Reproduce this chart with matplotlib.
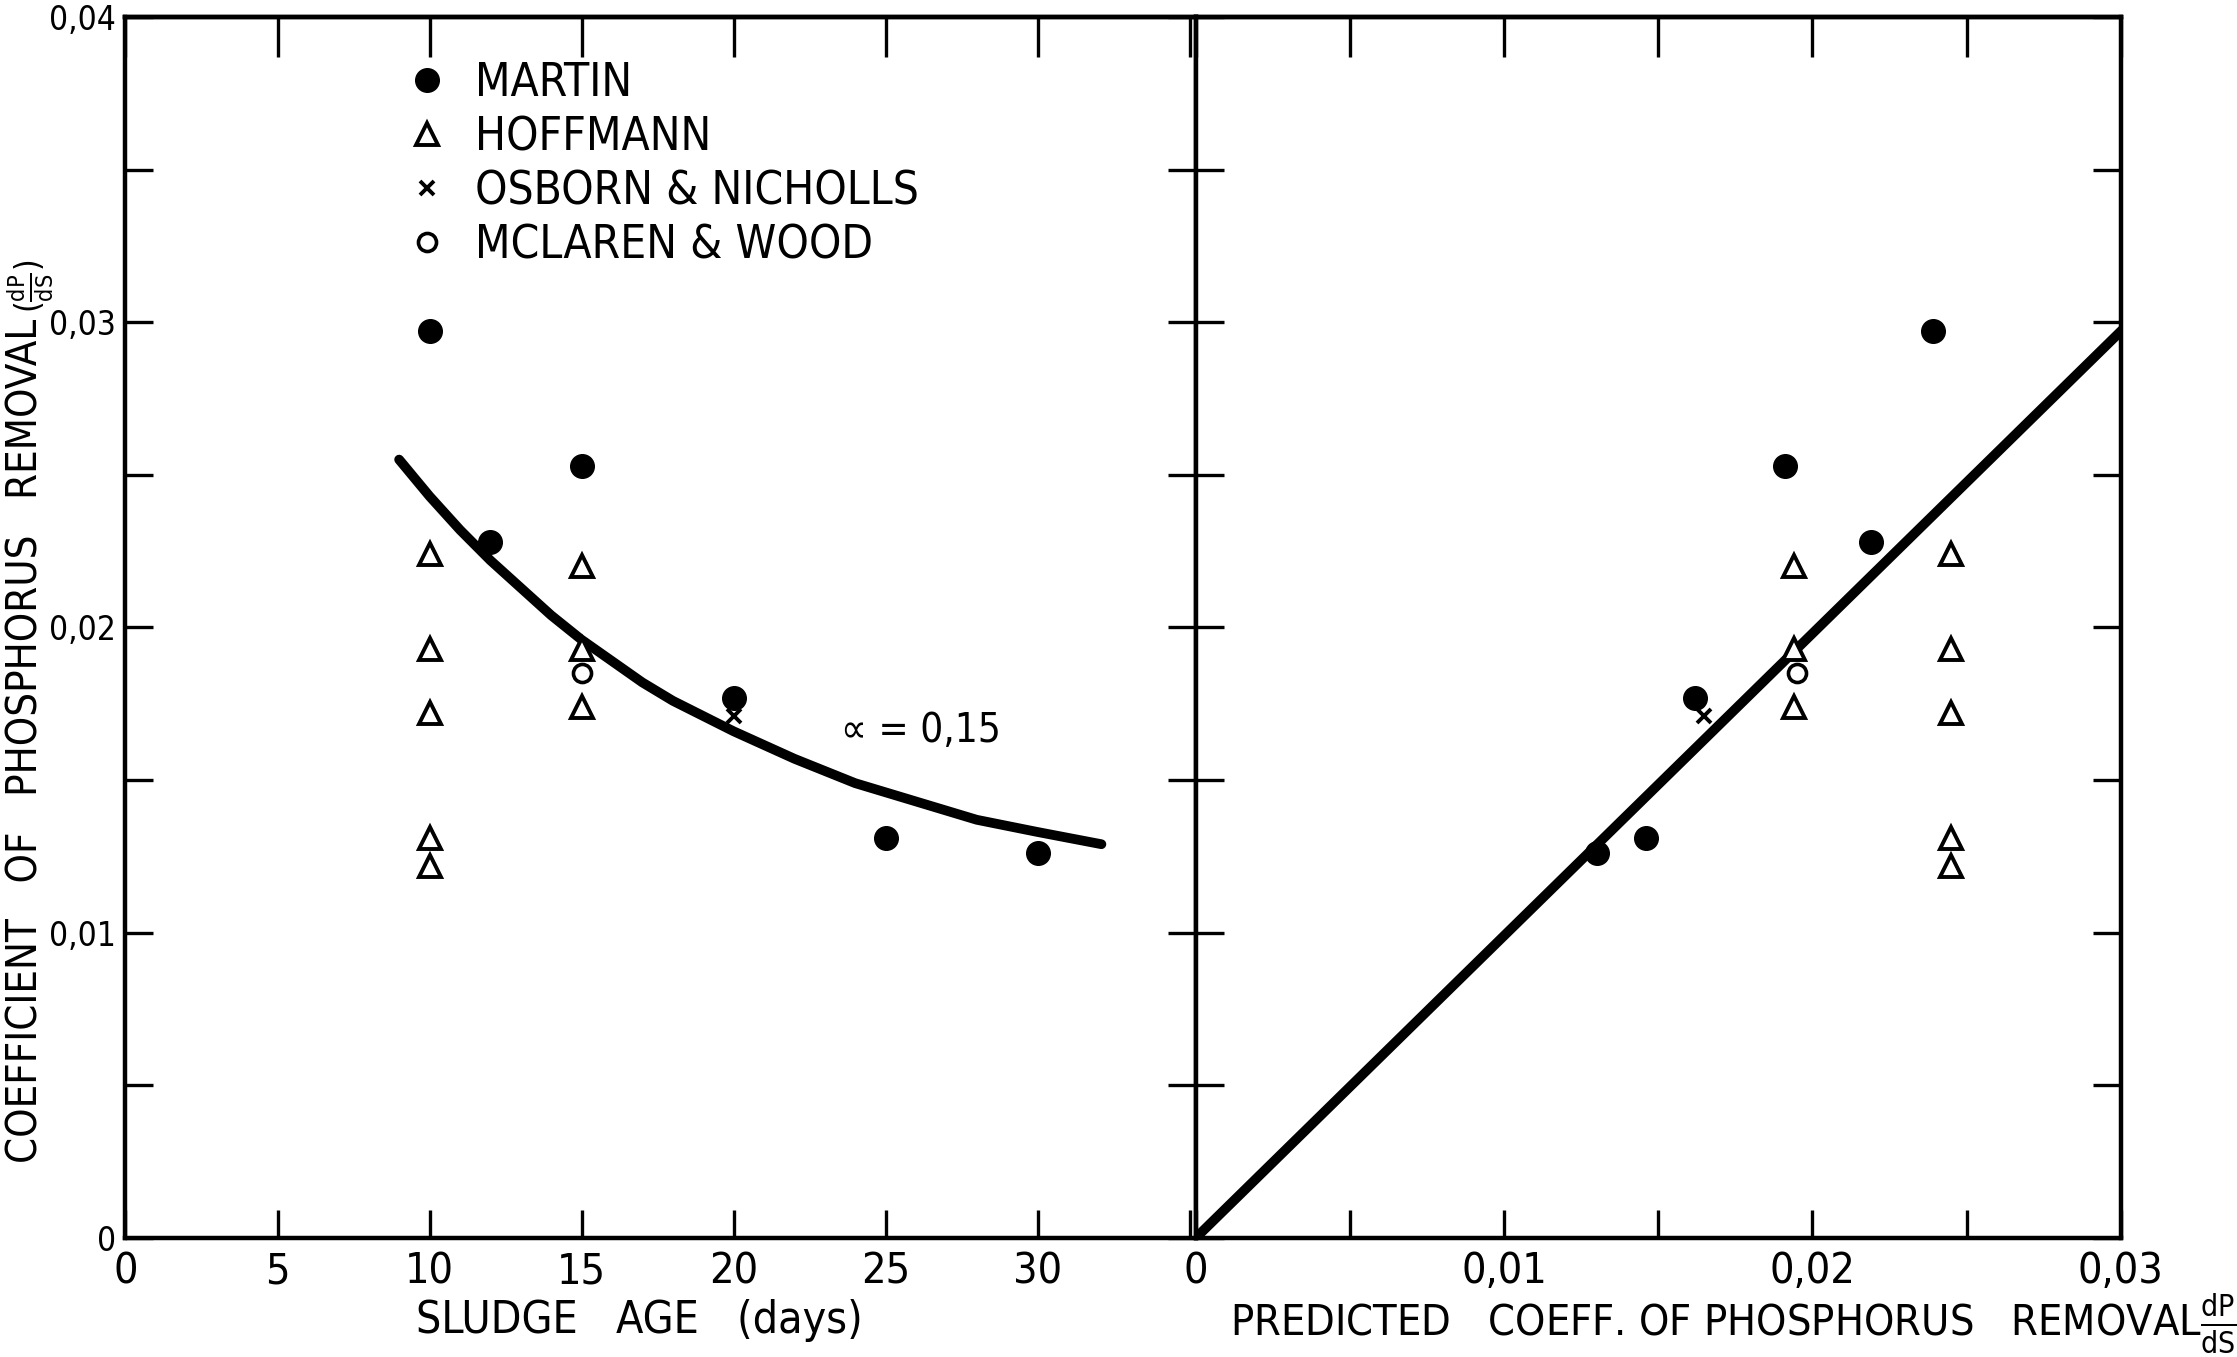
import matplotlib
matplotlib.use("Agg")
import matplotlib.pyplot as plt
from matplotlib.ticker import FixedLocator, FuncFormatter

plt.rcParams['font.family'] = ['DejaVu Sans']
plt.rcParams['font.stretch'] = 'condensed'
plt.rcParams['mathtext.fontset'] = 'dejavusans'

# Martin (filled circles)
martin_age = [10, 12, 15, 20, 25, 30]
martin_coef = [0.0297, 0.0228, 0.0253, 0.0177, 0.0131, 0.0126]
martin_pred = [0.0239, 0.0219, 0.0191, 0.0162, 0.0146, 0.0130]

# Hoffmann (open triangles)
hoffmann_age = [10, 10, 10, 10, 10, 15, 15, 15]
hoffmann_coef = [0.0224, 0.0193, 0.0172, 0.0131, 0.0122, 0.0220, 0.0193, 0.0174]
hoffmann_pred = [0.0245, 0.0245, 0.0245, 0.0245, 0.0245, 0.0194, 0.0194, 0.0194]

# Osborn & Nicholls (x)
osborn_age = [20]
osborn_coef = [0.0171]
osborn_pred = [0.0165]

# McLaren & Wood (open circle)
mclaren_age = [15]
mclaren_coef = [0.0185]
mclaren_pred = [0.0195]

# fitted curve, alpha = 0,15
curve_age = [9.0, 10, 11, 12, 13, 14, 15, 16, 17, 18, 19, 20, 22, 24, 26, 28, 30, 32.1]
curve_coef = [0.0255, 0.0243, 0.0232, 0.0222, 0.0213, 0.0204, 0.0196, 0.0189, 0.0182,
              0.0176, 0.0171, 0.0166, 0.0157, 0.0149, 0.0143, 0.0137, 0.0133, 0.0129]

# observed vs predicted line
line_pred = [0.0, 0.030]
line_obs = [0.0, 0.0297]

LW_SPINE = 3.2


def comma(v, pos=None):
    if abs(v) < 1e-12:
        return "0"
    return f"{v:.2f}".replace(".", ",")


def only_hundredths(v, pos=None):
    return comma(v) if abs(v * 100 - round(v * 100)) < 1e-6 else ""


def style_axes(ax, xticks):
    for s in ax.spines.values():
        s.set_linewidth(LW_SPINE)
    ax.tick_params(which="both", direction="in", length=20, width=2.4,
                   top=False, right=True)
    ax.tick_params(axis="x", labelsize=31, pad=9)
    ax.tick_params(axis="y", labelsize=24, pad=7)
    ax.set_ylim(0, 0.04)
    ax.yaxis.set_major_locator(FixedLocator([0.005 * i for i in range(9)]))
    ax.xaxis.set_major_locator(FixedLocator(xticks))
    # longer ticks along the top edge
    top = ax.secondary_xaxis("top")
    top.set_xticks(xticks)
    top.tick_params(direction="in", length=29, width=2.4, labeltop=False)
    top.spines["top"].set_linewidth(LW_SPINE)


fig = plt.figure(figsize=(22.37, 13.57), dpi=100)
ax1 = fig.add_axes([0.0561, 0.0877, 0.4784, 0.8998])
ax2 = fig.add_axes([0.5345, 0.0877, 0.4135, 0.8998])

# left panel
ax1.set_xlim(0, 35.2)
style_axes(ax1, [0, 5, 10, 15, 20, 25, 30, 35])
ax1.xaxis.set_major_formatter(FuncFormatter(lambda v, p: "" if v > 31 else f"{v:.0f}"))
ax1.yaxis.set_major_formatter(FuncFormatter(only_hundredths))

ax1.plot(curve_age, curve_coef, color="black", lw=7, solid_capstyle="round")
ax1.plot(martin_age, martin_coef, "o", color="black", ms=17, label="MARTIN")
ax1.plot(hoffmann_age, hoffmann_coef, "^", mfc="white", mec="black", mew=2.8, ms=16,
         label="HOFFMANN")
ax1.plot(osborn_age, osborn_coef, "x", color="black", mew=2.8, ms=10,
         label="OSBORN & NICHOLLS")
ax1.plot(mclaren_age, mclaren_coef, "o", mfc="white", mec="black", mew=2.6, ms=13,
         label="MCLAREN & WOOD")
ax1.text(23.55, 0.0166, "\u221d = 0,15", fontsize=29, va="center", ha="left")

ax1.legend(loc="upper left", bbox_to_anchor=(0.262, 0.964), frameon=False,
           fontsize=33, handlelength=0.9, handletextpad=0.6, borderpad=0,
           labelspacing=0.2, numpoints=1, borderaxespad=0)

# right panel
ax2.set_xlim(0, 0.03)
style_axes(ax2, [0.005 * i for i in range(7)])
ax2.xaxis.set_major_formatter(FuncFormatter(only_hundredths))
ax2.tick_params(axis="y", labelleft=False)

ax2.plot(line_pred, line_obs, color="black", lw=7)
ax2.plot(martin_pred, martin_coef, "o", color="black", ms=17)
ax2.plot(hoffmann_pred, hoffmann_coef, "^", mfc="white", mec="black", mew=2.8, ms=16)
ax2.plot(osborn_pred, osborn_coef, "x", color="black", mew=2.8, ms=10)
ax2.plot(mclaren_pred, mclaren_coef, "o", mfc="white", mec="black", mew=2.6, ms=13)

# y title: words first, then the dP/dS fraction stacked above them
ylab = fig.text(0.0115, 0.143, "COEFFICIENT   OF   PHOSPHORUS   REMOVAL",
                rotation=90, ha="center", va="bottom", fontsize=30)
fig.canvas.draw()
top_px = ylab.get_window_extent().y1
frac_y = (top_px + 6) / fig.bbox.height
fig.text(0.0135, frac_y, "$(\\frac{\\mathrm{dP}}{\\mathrm{dS}})$",
         rotation=90, ha="center", va="bottom", fontsize=24)

fig.text(0.2857, 0.027, "SLUDGE   AGE   (days)", ha="center", va="center", fontsize=32)
fig.text(0.5498, 0.025,
         "PREDICTED   COEFF. OF PHOSPHORUS   REMOVAL$\\frac{\\mathrm{dP}}{\\mathrm{dS}}$",
         ha="left", va="center", fontsize=31)

fig.savefig("out.png", dpi=100)
